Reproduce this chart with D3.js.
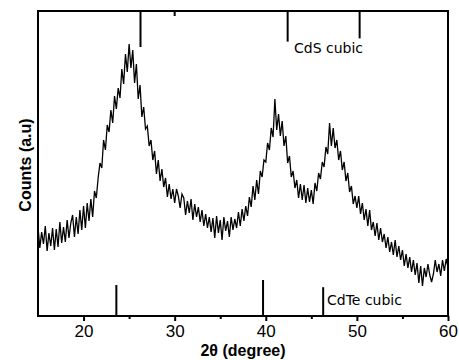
<!DOCTYPE html>
<html>
<script src="https://d3js.org/d3.v7.min.js"></script>
<body style="margin:0; background:#fff;">

<svg id="xrd" width="459" height="360"></svg>

<script>

// 2theta grid (degree) and measured counts
const twoTheta = [
  15.0,15.2,15.4,15.6,15.8, 16.0,16.2,16.4,16.6,16.8, 17.0,17.2,17.4,17.6,17.8,
  18.0,18.2,18.4,18.6,18.8, 19.0,19.2,19.4,19.6,19.8, 20.0,20.2,20.4,20.6,20.8,
  21.0,21.2,21.4,21.6,21.8, 22.0,22.2,22.4,22.6,22.8, 23.0,23.2,23.4,23.6,23.8,
  24.0,24.2,24.4,24.6,24.8, 25.0,25.2,25.4,25.6,25.8, 26.0,26.2,26.4,26.6,26.8,
  27.0,27.2,27.4,27.6,27.8, 28.0,28.2,28.4,28.6,28.8, 29.0,29.2,29.4,29.6,29.8,
  30.0,30.2,30.4,30.6,30.8, 31.0,31.2,31.4,31.6,31.8, 32.0,32.2,32.4,32.6,32.8,
  33.0,33.2,33.4,33.6,33.8, 34.0,34.2,34.4,34.6,34.8, 35.0,35.2,35.4,35.6,35.8,
  36.0,36.2,36.4,36.6,36.8, 37.0,37.2,37.4,37.6,37.8, 38.0,38.2,38.4,38.6,38.8,
  39.0,39.2,39.4,39.6,39.8, 40.0,40.2,40.4,40.6,40.8, 41.0,41.2,41.4,41.6,41.8,
  42.0,42.2,42.4,42.6,42.8, 43.0,43.2,43.4,43.6,43.8, 44.0,44.2,44.4,44.6,44.8,
  45.0,45.2,45.4,45.6,45.8, 46.0,46.2,46.4,46.6,46.8, 47.0,47.2,47.4,47.6,47.8,
  48.0,48.2,48.4,48.6,48.8, 49.0,49.2,49.4,49.6,49.8, 50.0,50.2,50.4,50.6,50.8,
  51.0,51.2,51.4,51.6,51.8, 52.0,52.2,52.4,52.6,52.8, 53.0,53.2,53.4,53.6,53.8,
  54.0,54.2,54.4,54.6,54.8, 55.0,55.2,55.4,55.6,55.8, 56.0,56.2,56.4,56.6,56.8,
  57.0,57.2,57.4,57.6,57.8, 58.0,58.2,58.4,58.6,58.8, 59.0,59.2,59.4,59.6,59.8,
  60.0
]
const counts = [
  890,680,840,720,900, 650,830,700,880,660, 870,690,940,730,890,
  740,960,780,930,1010, 790,990,820,1060,860, 1100,880,1130,950,1170,
  990,1250,1180,1380,1530, 1480,1760,1660,1910,1840, 2060,1930,2200,2070,2280,
  2180,2470,2320,2620,2440, 2720,2480,2660,2330,2520, 2170,2310,1990,2090,1870,
  1900,1700,1760,1560,1650, 1420,1560,1350,1470,1290, 1380,1190,1320,1170,1270,
  1130,1270,1200,1080,1220, 1180,1010,1150,1030,1170, 960,1120,990,1090,940,
  1060,900,1020,880,990, 840,980,780,1000,830, 960,760,990,850,950,
  790,990,860,970,880, 1040,900,1070,950,1100, 1000,1190,1090,1300,1160,
  1360,1220,1450,1390,1560, 1540,1730,1660,1880,1790, 2170,1860,2020,1800,1950,
  1700,1800,1530,1600,1390, 1450,1280,1360,1180,1320, 1160,1310,1130,1280,1140,
  1260,1120,1330,1250,1430, 1370,1540,1490,1690,1620, 1930,1700,1880,1680,1760,
  1560,1650,1460,1540,1350, 1430,1240,1300,1120,1200, 1080,1200,1020,1130,960,
  1070,900,1060,860,940, 800,930,760,880,740, 820,680,790,640,740,
  610,760,590,700,560, 660,500,620,480,590, 440,560,410,530,330,
  500,300,480,390,520, 410,340,420,560,440, 520,400,560,450,570,
  490
]

// reference patterns: position (2theta) and relative intensity
const cdsPos = [26.25, 42.4, 50.3]
const cdsInt = [100, 85, 76]
const cdtePos = [23.6, 39.7, 46.3]
const cdteInt = [86, 100, 80]

const xMajor = [20, 30, 40, 50, 60]
const xMinor = [25, 35, 45, 55]
const xTopTicks = [30]

const plotLeft = 38, plotRight = 448, plotTop = 11, plotBottom = 316

const svg = d3.select("#xrd")

const x = d3.scaleLinear().domain([15, 60]).range([plotLeft, plotRight])
const y = d3.scaleLinear().domain([0, 3050]).range([plotBottom, plotTop])
const stick = d3.scaleLinear().domain([0, 100]).range([0, 36])

const data = twoTheta.map((t, i) => ({t: t, c: counts[i]}))

// pattern
svg.append("path")
  .datum(data)
  .attr("fill", "none")
  .attr("stroke", "#000")
  .attr("stroke-width", 1.3)
  .attr("d", d3.line().x(d => x(d.t)).y(d => y(d.c)))

// CdS sticks from the top
svg.selectAll(".cds")
  .data(cdsPos)
  .join("line")
  .attr("x1", d => x(d)).attr("x2", d => x(d))
  .attr("y1", plotTop).attr("y2", (d, i) => plotTop + stick(cdsInt[i]))
  .attr("stroke", "#000").attr("stroke-width", 2)

// CdTe sticks from the bottom
svg.selectAll(".cdte")
  .data(cdtePos)
  .join("line")
  .attr("x1", d => x(d)).attr("x2", d => x(d))
  .attr("y1", plotBottom).attr("y2", (d, i) => plotBottom - stick(cdteInt[i]))
  .attr("stroke", "#000").attr("stroke-width", 2)

svg.append("text")
  .attr("x", 294).attr("y", 53)
  .style("font-family", "DejaVu Sans").style("font-size", "14px")
  .text("CdS cubic")

svg.append("text")
  .attr("x", 327).attr("y", 305)
  .style("font-family", "DejaVu Sans").style("font-size", "14px")
  .text("CdTe cubic")

// frame
svg.append("rect")
  .attr("x", plotLeft).attr("y", plotTop)
  .attr("width", plotRight - plotLeft).attr("height", plotBottom - plotTop)
  .attr("fill", "none").attr("stroke", "#000").attr("stroke-width", 2)

// bottom axis
const xAxis = svg.append("g")
  .attr("transform", "translate(0," + plotBottom + ")")
  .call(d3.axisBottom(x).tickValues(xMajor).tickSize(5).tickSizeOuter(0).tickPadding(4))
xAxis.select(".domain").remove()
xAxis.selectAll("line").attr("stroke-width", 2)
xAxis.selectAll("text")
  .style("font-family", "Liberation Sans, Arial").style("font-size", "17px").attr("fill", "#000")

const xAxisMinor = svg.append("g")
  .attr("transform", "translate(0," + plotBottom + ")")
  .call(d3.axisBottom(x).tickValues(xMinor).tickSize(3).tickSizeOuter(0).tickFormat(""))
xAxisMinor.select(".domain").remove()
xAxisMinor.selectAll("line").attr("stroke-width", 2)

// top tick
svg.selectAll(".topTick")
  .data(xTopTicks)
  .join("line")
  .attr("x1", d => x(d)).attr("x2", d => x(d))
  .attr("y1", plotTop).attr("y2", plotTop + 5)
  .attr("stroke", "#000").attr("stroke-width", 2)

// axis titles
svg.append("text")
  .attr("text-anchor", "middle")
  .attr("x", x(37.5)).attr("y", 356)
  .style("font-family", "Liberation Sans, Arial").style("font-weight", "bold").style("font-size", "16px")
  .text("2θ (degree)")

svg.append("text")
  .attr("text-anchor", "middle")
  .attr("transform", "rotate(-90)")
  .attr("x", -165).attr("y", 31)
  .style("font-family", "Liberation Sans, Arial").style("font-weight", "bold").style("font-size", "16px")
  .text("Counts (a.u)")

</script>
</body>
</html>
